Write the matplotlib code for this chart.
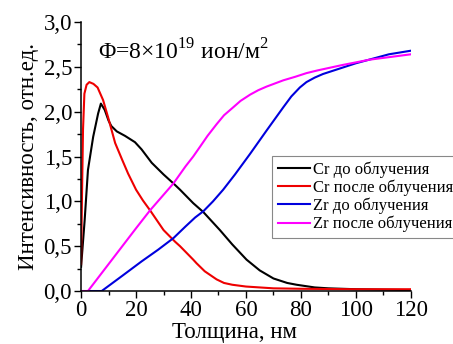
import numpy as np
import matplotlib
matplotlib.use('Agg')
import matplotlib.pyplot as plt
from matplotlib.ticker import MultipleLocator, FuncFormatter

plt.rcParams['font.family'] = ['Liberation Serif', 'DejaVu Serif']
plt.rcParams['mathtext.fontset'] = 'custom'
plt.rcParams['mathtext.rm'] = 'Liberation Serif'

# Cr before irradiation
cr_before_x = [0, 1.3, 2.5, 4.4, 6.2, 7.2, 8.6, 10, 11, 13, 16, 19.6, 22, 25.7, 30, 33.6,
               36, 40.8, 44.5, 50.5, 55, 60.2, 65, 70, 75, 78.4, 85, 90, 100, 110, 120]
cr_before_y = [0.27, 0.79, 1.35, 1.72, 1.98, 2.09, 2.02, 1.90, 1.84, 1.78, 1.73, 1.66, 1.58,
               1.43, 1.30, 1.20, 1.13, 0.98, 0.88, 0.68, 0.52, 0.35, 0.23, 0.14, 0.09, 0.07,
               0.04, 0.03, 0.02, 0.015, 0.01]

# Cr after irradiation
cr_after_x = [0, 0.3, 0.7, 1.2, 2, 3, 4.5, 6, 7, 8, 9.8, 12.4, 15, 17.1, 20, 22.5, 25.1, 30,
              34.2, 36, 40.8, 42, 45, 49.3, 52, 55, 60, 70, 80, 100, 120]
cr_after_y = [0.3, 1.0, 1.8, 2.2, 2.3, 2.33, 2.31, 2.27, 2.2, 2.13, 1.94, 1.65, 1.46, 1.31,
              1.13, 1.01, 0.90, 0.68, 0.55, 0.50, 0.35, 0.31, 0.22, 0.13, 0.09, 0.07, 0.05,
              0.03, 0.025, 0.02, 0.02]

# Zr before irradiation
zr_before_x = [0, 7.5, 15, 22, 28, 33.6, 38, 41.5, 44.5, 48, 51.7, 56, 61.5, 67.5, 73.6, 76.5,
               79.6, 82, 85, 88, 92, 96, 100, 106, 112, 120]
zr_before_y = [0, 0, 0.17, 0.33, 0.46, 0.59, 0.72, 0.82, 0.89, 1.00, 1.13, 1.30, 1.53, 1.79,
               2.05, 2.17, 2.27, 2.33, 2.38, 2.42, 2.46, 2.50, 2.54, 2.59, 2.64, 2.68]

# Zr after irradiation
zr_after_x = [0, 2.5, 10, 20, 25.1, 33.6, 38, 40.8, 43.3, 46, 49.3, 52, 55.4, 58, 61.5, 64.5,
              67.5, 73.6, 78, 82, 86, 90.5, 95, 100, 105, 110, 115, 120]
zr_after_y = [0, 0, 0.30, 0.70, 0.90, 1.20, 1.39, 1.50, 1.61, 1.73, 1.86, 1.96, 2.05, 2.12,
              2.19, 2.24, 2.28, 2.35, 2.39, 2.43, 2.46, 2.49, 2.52, 2.55, 2.58, 2.60, 2.62,
              2.64]

fig = plt.figure(figsize=(4.53, 3.44), dpi=100)
ax = fig.add_axes([0.179, 0.154, 0.728, 0.782])

ax.plot(cr_before_x, cr_before_y, color='black', lw=1.5, label='Cr до облучения')
ax.plot(cr_after_x, cr_after_y, color='#ee0000', lw=1.5, label='Cr после облучения')
ax.plot(zr_before_x, zr_before_y, color='#0000dd', lw=1.5, label='Zr до облучения')
ax.plot(zr_after_x, zr_after_y, color='#ff00ff', lw=1.5, label='Zr после облучения')

ax.set_xlim(0, 120)
ax.set_ylim(0, 3.0)
ax.xaxis.set_major_locator(MultipleLocator(20))
ax.xaxis.set_minor_locator(MultipleLocator(10))
ax.yaxis.set_major_locator(MultipleLocator(0.5))
ax.yaxis.set_minor_locator(MultipleLocator(0.25))
ax.yaxis.set_major_formatter(FuncFormatter(lambda v, p: f'{v:.1f}'.replace('.', ',')))
ax.tick_params(which='major', direction='out', length=5, width=1, labelsize=16.5, pad=1.5)
ax.tick_params(which='minor', direction='out', length=3, width=1)

for s in ['top', 'right']:
    ax.spines[s].set_visible(False)
for s in ['left', 'bottom']:
    ax.spines[s].set_linewidth(1.1)

ax.set_xlabel('Толщина, нм', fontsize=16.5, labelpad=0)
ax.xaxis.set_label_coords(0.464, -0.115)
ax.set_ylabel('Интенсивность, отн.ед.', fontsize=16.5, labelpad=3)

ax.text(6, 2.58, r'Φ=8×10$^{\mathrm{19}}$ ион/м$^{\mathrm{2}}$', fontsize=17)

leg = ax.legend(loc='lower left', bbox_to_anchor=(0.579, 0.196), borderaxespad=0,
                fontsize=12, fancybox=False, edgecolor='#888888', framealpha=1,
                handlelength=1.9, handletextpad=0.2, labelspacing=0.1,
                borderpad=0.35)
leg.get_frame().set_linewidth(0.8)

fig.savefig('out.png', dpi=100)
